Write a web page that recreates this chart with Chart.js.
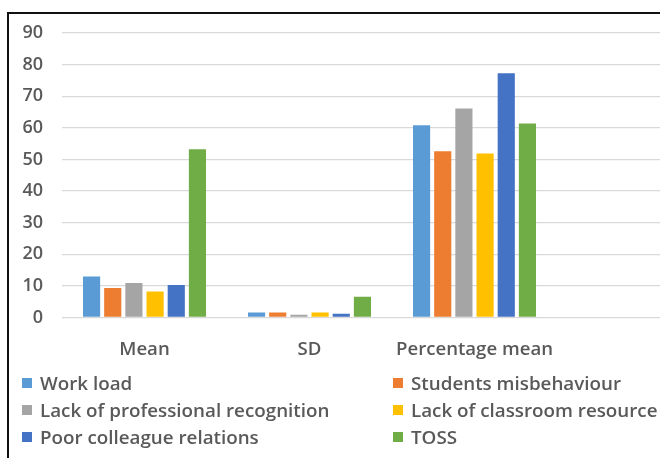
<!DOCTYPE html>
<html>
<head>
<meta charset="utf-8">
<script src="https://cdn.jsdelivr.net/npm/chart.js@4"></script>
<style>
  html, body { margin: 0; padding: 0; background: #fff; }
  body { width: 660px; height: 458px; overflow: hidden; position: relative; font-family: "Open Sans", sans-serif; }
  #frame { position: absolute; left: 7px; top: 12px; width: 800px; height: 600px; border-left: 2px solid #111; border-top: 2px solid #111; }
  #wrap { position: absolute; left: 0; top: 0; width: 740px; height: 370px; }
  #legend { position: absolute; left: 0; top: 0; width: 660px; height: 458px; pointer-events: none; }
  .item { position: absolute; display: flex; align-items: center; font-size: 18.8px; font-weight: 600; color: #595959; white-space: nowrap; line-height: 1; }
  .box { width: 10px; height: 10px; margin-right: 8px; flex: none; }
</style>
</head>
<body>
<div id="frame"></div>
<div id="wrap"><canvas id="chart" width="740" height="370"></canvas></div>
<div id="legend"></div>
<script>
// Categories along the x axis (the last slot is left empty)
const categories = ['Mean', 'SD', 'Percentage mean', ''];

// Series values: Mean, SD, Percentage mean
const workLoad = [13.0, 1.6, 60.8];
const studentsMisbehaviour = [9.3, 1.6, 52.6];
const professionalRecognition = [10.9, 0.9, 66.1];
const classroomResource = [8.2, 1.6, 51.9];
const colleagueRelations = [10.3, 1.2, 77.3];
const toss = [53.2, 6.6, 61.4];

const seriesNames = ['Work load', 'Students misbehaviour', 'Lack of professional recognition',
  'Lack of classroom resource', 'Poor colleague relations', 'TOSS'];
const seriesValues = [workLoad, studentsMisbehaviour, professionalRecognition,
  classroomResource, colleagueRelations, toss];
const seriesColors = ['#5b9bd5', '#ed7d31', '#a5a5a5', '#ffc000', '#4472c4', '#70ad47'];

// y axis range and step
const yMin = 0, yMax = 90, yStep = 10;

const textColor = '#595959';
const tickFont = { family: '"Open Sans", sans-serif', size: 18, weight: '600' };
const catFont = { family: '"Open Sans", sans-serif', size: 18.6, weight: '600' };

new Chart(document.getElementById('chart'), {
  type: 'bar',
  data: {
    labels: categories,
    datasets: seriesNames.map((name, i) => ({
      label: name,
      data: seriesValues[i],
      backgroundColor: seriesColors[i],
      borderWidth: 0,
      barPercentage: 0.81,
      categoryPercentage: 0.77
    }))
  },
  options: {
    responsive: false,
    animation: false,
    layout: { padding: { top: 33, right: 18, left: 0, bottom: 0 } },
    plugins: { legend: { display: false }, tooltip: { enabled: false } },
    scales: {
      x: {
        grid: { display: false },
        border: { display: false },
        ticks: { color: textColor, font: catFont, padding: 13, maxRotation: 0 },
        afterFit(scale) { scale.height = 52.5; }
      },
      y: {
        min: yMin, max: yMax,
        ticks: { stepSize: yStep, color: textColor, font: tickFont, padding: 19 },
        grid: { color: '#d9d9d9', lineWidth: 1.3, drawTicks: false },
        border: { display: false },
        afterFit(scale) { scale.width = 62; }
      }
    }
  }
});

// Legend: two columns, three rows
const legend = document.getElementById('legend');
const colX = [22, 393];
const rowY = [383, 410, 437];
seriesNames.forEach((name, i) => {
  const el = document.createElement('div');
  el.className = 'item';
  el.style.left = colX[i % 2] + 'px';
  el.style.top = (rowY[Math.floor(i / 2)] - 9) + 'px';
  el.style.height = '18px';
  const box = document.createElement('span');
  box.className = 'box';
  box.style.background = seriesColors[i];
  const txt = document.createElement('span');
  txt.textContent = name;
  el.appendChild(box);
  el.appendChild(txt);
  legend.appendChild(el);
});
</script>
</body>
</html>
